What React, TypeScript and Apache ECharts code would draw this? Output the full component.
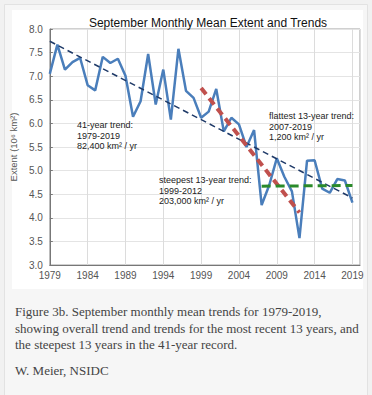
import React, { useEffect, useRef } from "react";
import * as echarts from "echarts";

const years = [
  1979, 1980, 1981, 1982, 1983, 1984, 1985, 1986, 1987, 1988, 1989, 1990, 1991, 1992,
  1993, 1994, 1995, 1996, 1997, 1998, 1999, 2000, 2001, 2002, 2003, 2004, 2005, 2006,
  2007, 2008, 2009, 2010, 2011, 2012, 2013, 2014, 2015, 2016, 2017, 2018, 2019,
];
const extent = [
  7.05, 7.67, 7.14, 7.30, 7.39, 6.81, 6.70, 7.41, 7.28, 7.37, 7.01, 6.14, 6.47, 7.47,
  6.40, 7.14, 6.08, 7.58, 6.69, 6.54, 6.12, 6.25, 6.73, 5.83, 6.12, 5.98, 5.50, 5.86,
  4.27, 4.69, 5.26, 4.87, 4.56, 3.57, 5.21, 5.22, 4.62, 4.53, 4.82, 4.79, 4.32,
];
const trend41Years = [1979, 2019];
const trend41Values = [7.74, 4.42];
const steepYears = [1999, 2012];
const steepValues = [6.75, 4.11];
const flatYears = [2007, 2019];
const flatValues = [4.67, 4.685];
const xTicks = { min: 1979, max: 2020, step: 5 };
const yTicks = { min: 3, max: 8, step: 0.5 };

const titleText = "September Monthly Mean Extent and Trends";
const yAxisName = "Extent (10\u2076 km\u00b2)";
const note41 = ["41-year trend:", "1979-2019", "82,400 km\u00b2 / yr"];
const noteSteep = ["steepest 13-year trend:", "1999-2012", "203,000 km\u00b2 / yr"];
const noteFlat = ["flattest 13-year trend:", "2007-2019", "1,200 km\u00b2 / yr"];
const captionLines = [
  "Figure 3b. September monthly mean trends for 1979-2019,",
  "showing overall trend and trends for the most recent 13 years, and",
  "the steepest 13 years in the 41-year record.",
];
const credit = "W. Meier, NSIDC";

const zip = (xs: number[], ys: number[]) => xs.map((x, i) => [x, ys[i]]);

const SANS = "'Liberation Sans', Arial, Helvetica, sans-serif";
const SERIF = "'Liberation Serif', 'DejaVu Serif', serif";

export default function App() {
  const ref = useRef<HTMLDivElement>(null);
  useEffect(() => {
    if (!ref.current) return;
    const chart = echarts.init(ref.current, undefined, { renderer: "svg" });
    const noteStyle = (lines: string[], x: number, y: number) => ({
      type: "text",
      x,
      y,
      z: 20,
      style: {
        text: lines.join("\n"),
        fontFamily: SANS,
        fontSize: 9,
        lineHeight: 10.5,
        fill: "#222",
      },
    });
    chart.setOption({
      animation: false,
      backgroundColor: "#f1f1f1",
      title: {
        text: titleText,
        left: 203,
        textAlign: "center",
        top: 12,
        textStyle: { fontFamily: SANS, fontSize: 12, fontWeight: "normal", color: "#111" },
      },
      grid: {
        left: 46,
        right: 12,
        top: 29,
        bottom: 130,
        show: true,
        borderColor: "#a0a0a0",
        borderWidth: 1,
        backgroundColor: "transparent",
      },
      xAxis: {
        type: "value",
        min: xTicks.min,
        max: xTicks.max,
        interval: xTicks.step,
        axisLine: { show: true, lineStyle: { color: "#777", width: 1 } },
        axisTick: { show: false },
        splitLine: { show: true, lineStyle: { color: "#dcdcdc", width: 1 } },
        axisLabel: {
          showMaxLabel: false,
          color: "#555",
          fontFamily: SANS,
          fontSize: 10,
          margin: 5,
          formatter: (v: number) => String(v),
        },
      },
      yAxis: {
        type: "value",
        min: yTicks.min,
        max: yTicks.max,
        interval: yTicks.step,
        name: yAxisName,
        nameLocation: "middle",
        nameRotate: 90,
        nameGap: 24,
        nameTextStyle: { color: "#555", fontFamily: SANS, fontSize: 9.5 },
        axisLine: { show: true, lineStyle: { color: "#777", width: 1 } },
        axisTick: { show: true, inside: true, length: 3, lineStyle: { color: "#777" } },
        splitLine: { show: true, lineStyle: { color: "#e4e4e4", width: 1 } },
        axisLabel: {
          color: "#555",
          fontFamily: SANS,
          fontSize: 10,
          margin: 7,
          formatter: (v: number) => v.toFixed(1),
        },
      },
      series: [
        {
          type: "line",
          data: zip(years, extent),
          showSymbol: false,
          lineStyle: { color: "#4a7ebb", width: 2.5 },
          itemStyle: { color: "#4a7ebb" },
          z: 2,
        },
        {
          type: "line",
          data: zip(trend41Years, trend41Values),
          showSymbol: false,
          lineStyle: { color: "#1f3a68", width: 1.5, type: [6, 4] },
          z: 3,
        },
        {
          type: "line",
          data: zip(steepYears, steepValues),
          showSymbol: false,
          lineStyle: { color: "#c0504d", width: 4, type: [8, 5] },
          z: 4,
        },
        {
          type: "line",
          data: zip(flatYears, flatValues),
          showSymbol: false,
          lineStyle: { color: "#2a8a2a", width: 3, type: [9, 5] },
          z: 4,
        },
      ],
      graphic: [
        {
          type: "rect",
          z: -10,
          shape: { x: 4.5, y: 4.5, width: 363, height: 400 },
          style: { fill: "#f6f6f6", stroke: "#e2e2e2", lineWidth: 1 },
          silent: true,
        },
        {
          type: "rect",
          z: -9,
          shape: { x: 12, y: 10, width: 351, height: 279 },
          style: { fill: "#ffffff" },
          silent: true,
        },
        noteStyle(note41, 77, 120),
        noteStyle(noteSteep, 159, 175),
        noteStyle(noteFlat, 269, 111),
        {
          type: "text",
          x: 15,
          y: 303,
          style: {
            text: captionLines.join("\n"),
            fontFamily: SERIF,
            fontSize: 13,
            lineHeight: 16.7,
            fill: "#444",
          },
        },
        {
          type: "text",
          x: 15,
          y: 364,
          style: { text: credit, fontFamily: SERIF, fontSize: 13, fill: "#444" },
        },
      ],
    });
    return () => chart.dispose();
  }, []);
  return (
    <div
      ref={ref}
      style={{ position: "fixed", left: 0, top: 0, width: 372, height: 395 }}
    />
  );
}
